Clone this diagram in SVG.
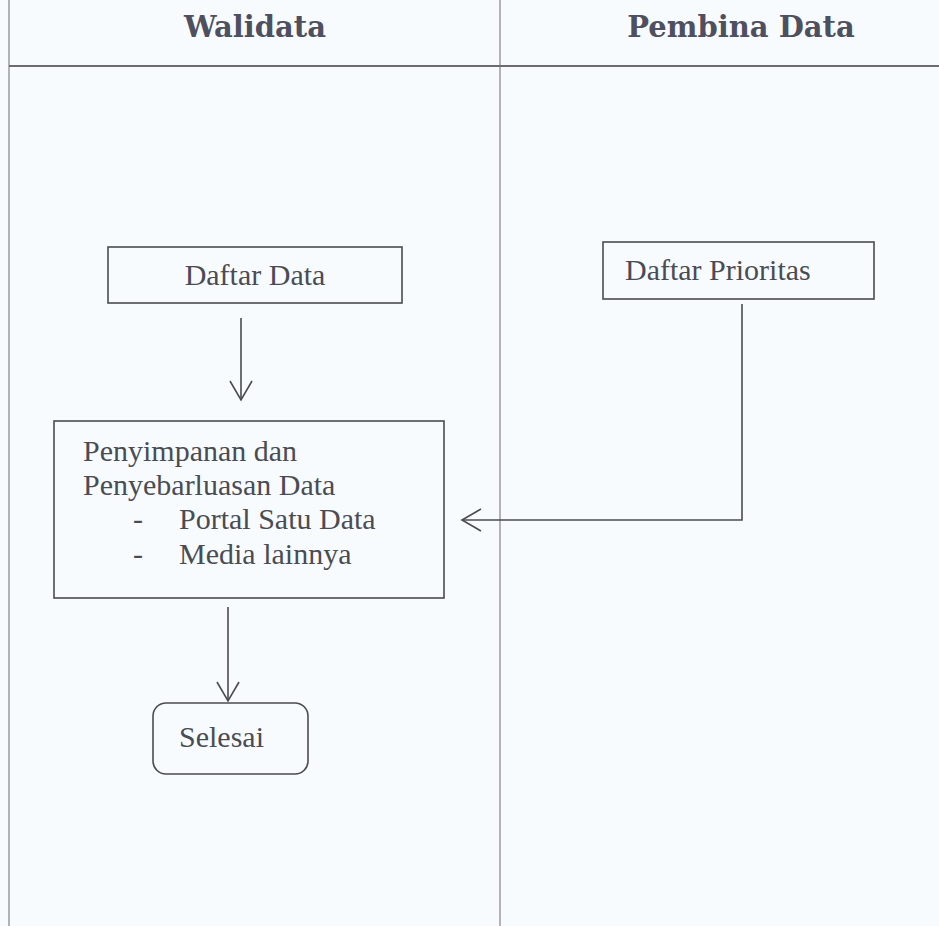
<svg xmlns="http://www.w3.org/2000/svg" width="939" height="926" viewBox="0 0 939 926">
  <defs>
    <style>
      .lane { stroke: #8a8c90; stroke-width: 1.3; fill: none; }
      .box { fill: none; stroke: #4a4c52; stroke-width: 1.6; }
      .wire { fill: none; stroke: #4a4c52; stroke-width: 1.6; }
      .head { font-family: "DejaVu Serif", "Liberation Serif", serif; font-weight: bold; font-size: 29px; fill: #4e5060; text-anchor: middle; }
      .label { font-family: "Liberation Serif", "DejaVu Serif", serif; font-size: 30px; fill: #4a4c54; }
    </style>
    <marker id="open-arrow" viewBox="0 0 22 24" refX="20" refY="12" markerWidth="22" markerHeight="24" markerUnits="userSpaceOnUse" orient="auto">
      <path d="M1,1 L20,12 L1,23" fill="none" stroke="#4a4c52" stroke-width="1.6"/>
    </marker>
  </defs>

  <rect x="0" y="0" width="939" height="926" fill="#f8fbfd"/>

  <!-- swimlane frame -->
  <g id="lanes">
    <line class="lane" x1="9" y1="0" x2="9" y2="926"/>
    <line class="lane" x1="500" y1="0" x2="500" y2="926"/>
    <line x1="9" y1="66" x2="939" y2="66" stroke="#6a6c72" stroke-width="1.8"/>
    <text class="head" x="255" y="37">Walidata</text>
    <text class="head" x="741" y="37">Pembina Data</text>
  </g>

  <g id="daftar-data">
    <rect class="box" x="108" y="247" width="294" height="56"/>
    <text class="label" x="255" y="285" text-anchor="middle">Daftar Data</text>
  </g>

  <g id="daftar-prioritas">
    <rect class="box" x="603" y="242" width="271" height="57"/>
    <text class="label" x="625" y="280">Daftar Prioritas</text>
  </g>

  <g id="penyimpanan">
    <rect class="box" x="54" y="421" width="390" height="177"/>
    <text class="label" x="83" y="461">Penyimpanan dan</text>
    <text class="label" x="83" y="495">Penyebarluasan Data</text>
    <text class="label" x="133" y="529">-</text>
    <text class="label" x="179" y="529">Portal Satu Data</text>
    <text class="label" x="133" y="564">-</text>
    <text class="label" x="179" y="564">Media lainnya</text>
  </g>

  <g id="selesai">
    <rect class="box" x="153" y="703" width="155" height="71" rx="13" ry="13"/>
    <text class="label" x="179" y="747">Selesai</text>
  </g>

  <g id="connectors">
    <line class="wire" x1="241" y1="318" x2="241" y2="400" marker-end="url(#open-arrow)"/>
    <polyline class="wire" points="742,304 742,520 462,520" marker-end="url(#open-arrow)"/>
    <line class="wire" x1="228" y1="607" x2="228" y2="701" marker-end="url(#open-arrow)"/>
  </g>
</svg>
